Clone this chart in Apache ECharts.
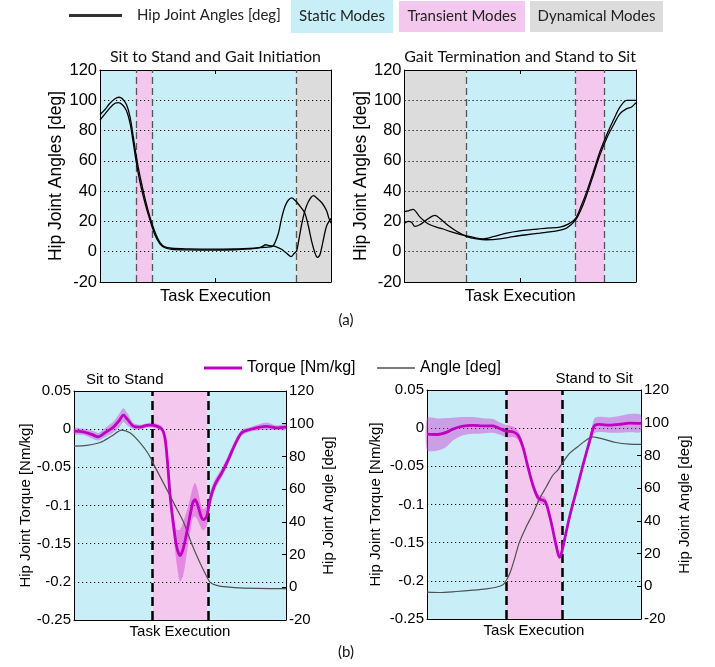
<!DOCTYPE html>
<html><head><meta charset="utf-8">
<script src="https://cdn.jsdelivr.net/npm/echarts@6/dist/echarts.min.js"></script>
<style>html,body{margin:0;padding:0;background:#fff}#c{width:715px;height:667px}</style>
</head><body><div id="c"></div>
<script>
// ---------- (a) Sit to Stand and Gait Initiation : hip joint angles [deg] ----------
const stsX_A = [0,2.2,4.3,6.5,8.2,9.7,11.5,13.0,14.4,15.6,17.3,19.5,21.6,23.8,26.0,28.1,31.0,38.2,48.3,58.4,67.1,71.4,73.6,75.0,77.2,78.6,80.1,81.5,83.0,84.4,86.1,88.5,90.2,91.6,93.1,94.1,95.2,96.7,98.1,100];
const stsAngleA = [90.5,94,98,101,102,101,97,89,76,64,50,35,23,13,6,3.2,2.3,1.9,1.7,1.9,2.4,2.8,3.2,3.8,12,22,30,34,35.5,34,31,26,17,7,-1,-3.8,-2,8,17,22];
const stsX_B = [0,2.2,4.3,6.5,7.9,9.7,11.5,13.0,14.4,15.6,17.3,19.5,21.6,23.8,26.0,28.1,31.0,38.2,48.3,58.4,67.1,70.0,71.7,73.2,75.8,78.6,80.8,82.7,84.1,85.1,86.1,87.3,88.5,90.2,92.4,94.2,96.2,98.1,99.1,100];
const stsAngleB = [87,91,95,98,98.5,97,93,85,72,60,46,32,21,11,5,2.6,1.6,1.2,1.0,1.3,2.2,3.2,4.6,4.0,3.6,1.6,-1.0,-3.2,-1.0,0.5,8,18,26,33,37,35,32,27,22,19];
const stsModes = [[0,15.6,'static'],[15.6,22.7,'transient'],[22.7,85.0,'static'],[85.0,100,'dynamic']];

// ---------- (a) Gait Termination and Stand to Sit ----------
const gtX_C = [0,1.6,3.7,6.6,8.8,11.0,13.8,16.7,19.6,23.2,26.8,31.1,34.0,38.3,44.1,49.9,55.6,61.4,67.1,70.7,73.9,76.5,78.7,81.6,84.4,87.3,90.2,93.1,96.0,100];
const gtAngleC = [26.5,27,28,23,20,17.8,16.2,15,13.4,11.8,10.5,9,8.5,9.9,12.3,13.8,14.7,15.6,16.2,18.2,22,31,39.7,52.9,66,77,86.8,95.6,100,100];
const gtX_D = [0,1.6,3.0,4.5,6.6,9.5,13.1,15.3,18.2,21.0,23.9,26.8,31.1,35.4,41.2,47.0,52.7,58.5,64.3,70.0,73.9,76.5,78.7,81.6,84.4,87.3,90.2,93.1,96.0,98.1,100];
const gtAngleD = [18.9,20,19.5,16.7,17.8,21,24,22,18.2,15,12.3,10,8.5,7.9,8.5,10,11.2,12.3,13.4,15.6,21,28.7,37.5,50.7,63.8,74.8,83.5,91.2,94.5,95.6,98.5];
const gtModes = [[0,26.8,'dynamic'],[26.8,73.9,'static'],[73.9,86.5,'transient'],[86.5,100,'static']];

// ---------- (b) Sit to Stand : torque [Nm/kg] mean and spread, angle [deg] ----------
const stTorqueX = [0,4.4,8.3,11.5,14.6,18.6,21.4,23.3,25.2,28.0,31.1,34.3,36.6,39.0,41.4,42.9,44.2,45.3,46.9,48.4,50.0,51.6,53.9,56.0,57.1,58.3,59.9,61.0,62.6,64.2,66.5,69.7,72.8,75.9,79.1,83.0,87.7,90.9,95.6,100];
const stTorque = [-0.0026,-0.0034,-0.0069,-0.0100,-0.0047,0.0027,0.0115,0.0185,0.0128,0.0040,0.0027,0.0049,0.0053,0.0040,0.0005,-0.0113,-0.0464,-0.0858,-0.1252,-0.1537,-0.1655,-0.1558,-0.1252,-0.0967,-0.0923,-0.0989,-0.1142,-0.1186,-0.1142,-0.0923,-0.0726,-0.0573,-0.0398,-0.0201,-0.0047,-0.0004,0.0027,0.0036,0.0018,0.0027];
const stSpread = [0.004,0.004,0.005,0.005,0.006,0.007,0.009,0.009,0.008,0.004,0.003,0.003,0.003,0.003,0.003,0.004,0.006,0.008,0.012,0.022,0.034,0.035,0.025,0.02,0.022,0.02,0.015,0.014,0.013,0.01,0.007,0.006,0.006,0.005,0.004,0.003,0.004,0.005,0.003,0.004];
const stAngleX = [0,6.0,12.3,17.8,22.5,26.4,31.1,35.1,38.2,42.9,47.6,51.6,55.5,59.4,62.6,64.2,67.3,72.0,79.9,92.5,100];
const stAngle = [86.3,86.7,88.5,92.5,96.1,94.5,88.5,81.5,73.6,62,50.1,40,26.6,15,6.6,3,1.2,0.2,-0.5,-0.8,-0.8];
const stModes = [[0,37.1,'static'],[37.1,63.1,'transient'],[63.1,100,'static']];

// ---------- (b) Stand to Sit ----------
const tsTorqueX = [0,5.1,9.0,12.1,16.8,21.5,26.1,30.8,33.9,37.0,40.1,42.5,44.8,47.1,49.5,51.8,53.3,54.9,56.0,58.0,60.3,61.9,62.7,63.5,66.6,69.7,72.8,75.9,78.2,80.6,85.2,89.9,94.5,100];
const tsTorque = [-0.0078,-0.0083,-0.0056,-0.0012,0.0027,0.0036,0.0031,0.0031,-0.0004,-0.0039,-0.0047,-0.0091,-0.0245,-0.0500,-0.0748,-0.0910,-0.0937,-0.0950,-0.1011,-0.1230,-0.1530,-0.1690,-0.1650,-0.1560,-0.1164,-0.0831,-0.0494,-0.0179,0.0031,0.0049,0.0040,0.0049,0.0066,0.0062];
const tsSpread = [0.021,0.021,0.019,0.015,0.012,0.011,0.010,0.009,0.008,0.008,0.007,0.006,0.005,0.004,0.004,0.005,0.005,0.005,0.004,0.003,0.003,0.003,0.003,0.003,0.003,0.003,0.003,0.004,0.010,0.010,0.010,0.011,0.012,0.011];
const tsAngleX = [0,5.9,13.7,21.5,27.7,32.3,35.5,37.0,38.9,40.9,43.2,46.3,49.5,52.6,55.7,58.8,61.1,63.1,66.6,70.4,74.3,77.4,79.0,82.9,88.3,94.6,100];
const tsAngle = [-3.6,-3.8,-3.2,-2.4,-1.6,-0.6,0.9,3.5,8.6,16.8,27,36.2,44.4,53.6,60.7,67.9,71,75,81.2,85.3,89.3,91.4,91,89.8,87.9,86.9,86.7];
const tsModes = [[0,37.0,'static'],[37.0,63.1,'transient'],[63.1,100,'static']];

// ---------- ticks ----------
const angleTicks = {min:-20, max:120, interval:20};
const torqueTicks = {min:-0.25, max:0.05, interval:0.05};

// ---------- styling ----------
const MODE_COL = {static:'#c8eff8', transient:'#f4c8ee', dynamic:'#dcdcdc'};
const AR = '"Liberation Sans", Arial, sans-serif';
const CAL = 'Lato, "Open Sans", sans-serif';
const zip = (xs, ys) => xs.map((x,i)=>[x, ys[i]]);
const bounds = m => m.slice(1).map(s => s[0]);

const chart = echarts.init(document.getElementById('c'));

const grids = [
  {left:100, top:70, width:231, height:212},
  {left:404.5, top:70, width:231.5, height:212},
  {left:74, top:391, width:212, height:229},
  {left:427, top:390, width:214, height:229}
];

function xPair(gi, nameSize, nameGap, ticks){
  const base = {type:'value', gridIndex:gi, min:0, max:100, interval:50, z:3,
    axisLine:{show:true, onZero:false, lineStyle:{color:'#000', width:1}},
    axisTick:{show:ticks, inside:true, length:4, lineStyle:{color:'#000'}},
    axisLabel:{show:false}, splitLine:{show:false}};
  return [
    Object.assign({}, base, {position:'bottom', name:'Task Execution', nameLocation:'middle', nameGap:nameGap,
      nameTextStyle:{fontFamily:AR, fontSize:nameSize, color:'#000'}}),
    Object.assign({}, base, {position:'top'})
  ];
}
const dotted = {show:true, lineStyle:{color:'#000', width:1, type:[1.2,2.8]}};
function yAngleTop(gi, gap){
  return [
    Object.assign({type:'value', gridIndex:gi, position:'left', z:3}, angleTicks, {
      axisLine:{show:true, onZero:false, lineStyle:{color:'#000'}}, axisTick:{show:false},
      axisLabel:{fontFamily:AR, fontSize:16.5, color:'#000', margin:3}, splitLine:dotted,
      name:'Hip Joint Angles [deg]', nameLocation:'middle', nameGap:gap,
      nameTextStyle:{fontFamily:AR, fontSize:17.5, color:'#000'}}),
    Object.assign({type:'value', gridIndex:gi, position:'right', z:3}, angleTicks, {
      axisLine:{show:true, onZero:false, lineStyle:{color:'#000'}}, axisTick:{show:false},
      axisLabel:{show:false}, splitLine:{show:false}})
  ];
}
function yBottom(gi, gapL, gapR){
  return [
    Object.assign({type:'value', gridIndex:gi, position:'left', z:3}, torqueTicks, {
      axisLine:{show:true, onZero:false, lineStyle:{color:'#000'}}, axisTick:{show:false},
      axisLabel:{fontFamily:AR, fontSize:15, color:'#000', margin:3}, splitLine:dotted,
      name:'Hip Joint Torque [Nm/kg]', nameLocation:'middle', nameGap:gapL,
      nameTextStyle:{fontFamily:AR, fontSize:15, color:'#000'}}),
    Object.assign({type:'value', gridIndex:gi, position:'right', z:3}, angleTicks, {
      axisLine:{show:true, onZero:false, lineStyle:{color:'#000'}},
      axisTick:{show:true, inside:true, length:4, lineStyle:{color:'#000'}},
      axisLabel:{fontFamily:AR, fontSize:15, color:'#000', margin:3}, splitLine:{show:false},
      name:'Hip Joint Angle [deg]', nameLocation:'middle', nameGap:gapR,
      nameTextStyle:{fontFamily:AR, fontSize:15, color:'#000'}})
  ];
}

const xAxis = [].concat(xPair(0,16.5,6,true), xPair(1,16.5,6,true), xPair(2,15,4,false), xPair(3,15,4,false));
const yAxis = [].concat(yAngleTop(0,34), yAngleTop(1,32), yBottom(2,41,35), yBottom(3,44,36));

function bgSeries(gi, modes, dashStyle){
  return {type:'line', xAxisIndex:gi*2, yAxisIndex:gi*2, data:[], silent:true, z:1,
    markArea:{silent:true, z:1, data: modes.map(m => [{xAxis:m[0], itemStyle:{color:MODE_COL[m[2]]}}, {xAxis:m[1]}])},
    markLine:{silent:true, z:5, symbol:'none', label:{show:false}, lineStyle:dashStyle,
      data: bounds(modes).map(b => ({xAxis:b}))}
  };
}
const dashTop = {color:'#555', width:1.3, type:[7,4]};
const dashBot = {color:'#000', width:2.5, type:[9,5]};

function angleLine(gi, xs, ys){
  return {type:'line', name:'Hip Joint Angles [deg]', xAxisIndex:gi*2, yAxisIndex:gi*2, z:6,
    data:zip(xs,ys), smooth:0.3, showSymbol:false, symbol:'none', color:'#000',
    lineStyle:{color:'#000', width:1.3}};
}
function band(gi, xs, mean, sp){
  return {type:'custom', xAxisIndex:gi*2, yAxisIndex:gi*2, z:4, silent:true, data:[[0,0]],
    renderItem:(params, api) => {
      const up = xs.map((x,i) => api.coord([x, mean[i]+sp[i]]));
      const lo = xs.map((x,i) => api.coord([x, mean[i]-sp[i]])).reverse();
      return {type:'polygon', shape:{points: up.concat(lo), smooth:0.25}, style:{fill:'rgba(208,60,208,0.45)'}};
    }};
}
function torqueLine(gi, xs, ys){
  return {type:'line', name:'Torque [Nm/kg]', xAxisIndex:gi*2, yAxisIndex:gi*2, z:6,
    data:zip(xs,ys), smooth:0.3, showSymbol:false, symbol:'none', color:'#c000c0',
    lineStyle:{color:'#c000c0', width:2.8}};
}
function gAngleLine(gi, xs, ys){
  return {type:'line', name:'Angle [deg]', xAxisIndex:gi*2, yAxisIndex:gi*2+1, z:6,
    data:zip(xs,ys), smooth:0.3, showSymbol:false, symbol:'none', color:'#505050',
    lineStyle:{color:'#505050', width:1.2}};
}

const series = [
  bgSeries(0, stsModes, dashTop), bgSeries(1, gtModes, dashTop),
  bgSeries(2, stModes, dashBot), bgSeries(3, tsModes, dashBot),
  angleLine(0, stsX_A, stsAngleA), angleLine(0, stsX_B, stsAngleB),
  angleLine(1, gtX_C, gtAngleC), angleLine(1, gtX_D, gtAngleD),
  band(2, stTorqueX, stTorque, stSpread), band(3, tsTorqueX, tsTorque, tsSpread),
  gAngleLine(2, stAngleX, stAngle), gAngleLine(3, tsAngleX, tsAngle),
  torqueLine(2, stTorqueX, stTorque), torqueLine(3, tsTorqueX, tsTorque)
];

const legend = [
  {data:['Hip Joint Angles [deg]'], left:69, top:8, padding:0, icon:'rect', itemWidth:53, itemHeight:3,
    itemStyle:{color:'#333'}, textStyle:{fontFamily:CAL, fontSize:15, color:'#222', padding:[0,0,0,10]}},
  {data:['Torque [Nm/kg]'], left:204, top:360, padding:0, icon:'rect', itemWidth:38, itemHeight:3,
    textStyle:{fontFamily:AR, fontSize:16, color:'#000'}},
  {data:['Angle [deg]'], left:377, top:360, padding:0, icon:'rect', itemWidth:38, itemHeight:1.5,
    textStyle:{fontFamily:AR, fontSize:16, color:'#000'}}
];

function txt(text, x, y, font, align, color){
  return {type:'text', x:x, y:y, z:10, silent:true,
    style:{text:text, font:font, fill:color||'#111', align:align, verticalAlign:'middle',
      textAlign:align, textVerticalAlign:'middle'}};
}
const graphic = [
  {type:'rect', shape:{x:291, y:0, width:102, height:33}, style:{fill:MODE_COL.static}, silent:true},
  {type:'rect', shape:{x:399, y:1, width:126, height:31}, style:{fill:MODE_COL.transient}, silent:true},
  {type:'rect', shape:{x:530, y:1, width:133, height:31}, style:{fill:MODE_COL.dynamic}, silent:true},
  txt('Static Modes', 342, 16.5, '15px ' + CAL, 'center', '#222'),
  txt('Transient Modes', 462, 16.5, '15px ' + CAL, 'center', '#222'),
  txt('Dynamical Modes', 596.5, 16.5, '15px ' + CAL, 'center', '#222'),
  txt('Sit to Stand and Gait Initiation', 215.5, 57, '16px ' + CAL, 'center'),
  txt('Gait Termination and Stand to Sit', 520, 57, '16px ' + CAL, 'center'),
  txt('(a)', 346, 320, '15px ' + CAL, 'center'),
  txt('(b)', 346, 652, '15px ' + CAL, 'center'),
  txt('Sit to Stand', 86, 380, '15px ' + AR, 'left', '#000'),
  txt('Stand to Sit', 633, 379, '15px ' + AR, 'right', '#000')
];

chart.setOption({
  animation:false,
  backgroundColor:'#fff',
  grid: grids,
  xAxis: xAxis,
  yAxis: yAxis,
  legend: legend,
  graphic: graphic,
  series: series
});
</script>
</body></html>
